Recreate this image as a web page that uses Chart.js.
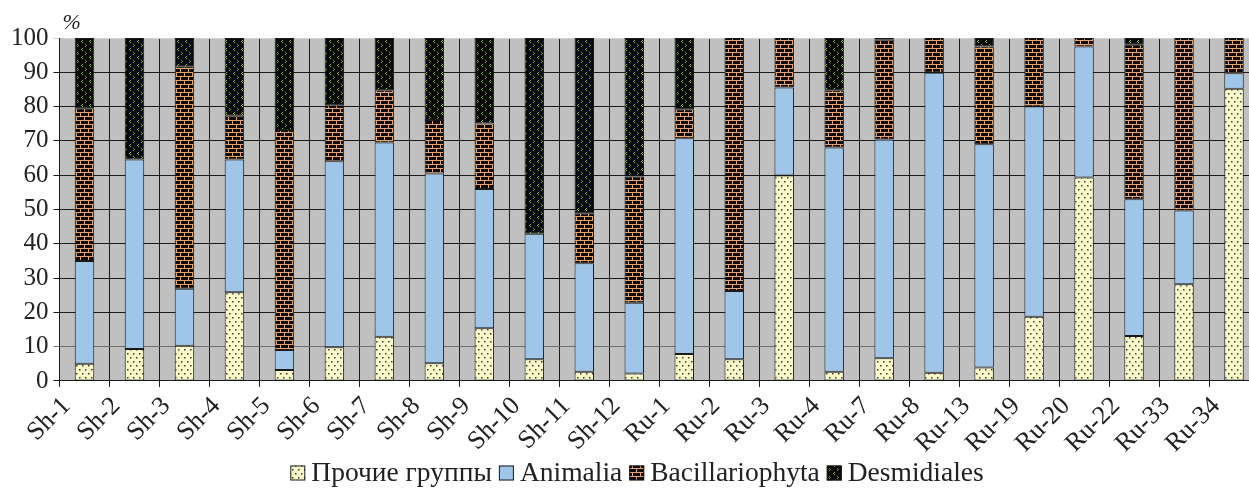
<!DOCTYPE html>
<html>
<head>
<meta charset="utf-8">
<script src="https://cdn.jsdelivr.net/npm/chart.js@4"></script>
<style>
  html, body { margin: 0; padding: 0; background: #fff; overflow: hidden; }
  #wrap { width: 1262px; height: 494px; }
</style>
</head>
<body>
<div id="wrap"><canvas id="barChart" width="1262" height="494"></canvas></div>
<script>
const sites = ["Sh-1", "Sh-2", "Sh-3", "Sh-4", "Sh-5", "Sh-6", "Sh-7", "Sh-8", "Sh-9", "Sh-10", "Sh-11", "Sh-12",
  "Ru-1", "Ru-2", "Ru-3", "Ru-4", "Ru-7", "Ru-8", "Ru-13", "Ru-19", "Ru-20", "Ru-22", "Ru-33", "Ru-34"];

const other = [5, 9.3, 10.3, 25.9, 3.2, 9.8, 12.9, 5.2, 15.4, 6.3, 2.7, 2.2,
  7.9, 6.3, 59.9, 2.7, 6.6, 2.4, 3.9, 18.7, 59.3, 13.1, 28.2, 85.2];
const animalia = [30, 55.3, 16.6, 38.7, 5.8, 54.3, 56.6, 55.3, 40.6, 36.6, 31.6, 20.6,
  62.9, 19.9, 25.7, 65.4, 63.8, 87.5, 65.1, 61.3, 38.2, 39.9, 21.5, 4.5];
const bacillario = [44.5, 0, 64.7, 12.7, 64.2, 16.3, 15.3, 15.6, 19.1, 0, 14.6, 36.8,
  8.4, 73.8, 14.4, 16.7, 29.1, 10.1, 28.5, 20, 2.5, 45, 50.3, 10.3];
const desmid = [20.5, 35.4, 8.4, 22.7, 26.8, 19.6, 15.2, 23.9, 24.9, 57.1, 51.1, 40.4,
  20.8, 0, 0, 15.2, 0.5, 0, 2.5, 0, 0, 2, 0, 0];

const yTicks = [0, 10, 20, 30, 40, 50, 60, 70, 80, 90, 100];

function tile(w, h, paint) {
  const c = document.createElement("canvas");
  c.width = w; c.height = h;
  const g = c.getContext("2d");
  paint(g);
  return document.createElement("canvas").getContext("2d").createPattern(c, "repeat");
}

// light yellow with small dark dots
const dots = tile(6, 8, g => {
  g.fillStyle = "#fbf8c9"; g.fillRect(0, 0, 6, 8);
  g.fillStyle = "#3a3a30";
  g.fillRect(1, 1, 1.5, 1.5);
  g.fillRect(4, 5, 1.5, 1.5);
});

// black bricks with orange mortar
const bricks = tile(8, 8, g => {
  g.fillStyle = "#0a0a0a"; g.fillRect(0, 0, 8, 8);
  g.fillStyle = "#e9a46c";
  g.fillRect(0, 0, 8, 1);
  g.fillRect(0, 4, 8, 1);
  g.fillRect(0, 0, 1, 4);
  g.fillRect(4, 4, 1, 4);
});

// black with little green chevrons
const greenMarks = tile(8, 8, g => {
  g.fillStyle = "#080808"; g.fillRect(0, 0, 8, 8);
  g.fillStyle = "#8cc63c";
  g.fillRect(2, 0, 1, 1); g.fillRect(1, 1, 1, 1); g.fillRect(2, 2, 1, 1);
  g.fillStyle = "#6aa224";
  g.fillRect(5, 4, 1, 1); g.fillRect(6, 5, 1, 1); g.fillRect(5, 6, 1, 1);
});

const edge = "#1a1a1a";
const serif = "'Liberation Serif', 'DejaVu Serif', serif";

// legend drawn by hand so box/text spacing matches the original
const legendItems = [
  { text: "Прочие группы", fill: dots },
  { text: "Animalia", fill: "#9fc6e9" },
  { text: "Bacillariophyta", fill: bricks },
  { text: "Desmidiales", fill: greenMarks }
];

const extras = {
  id: "extras",
  beforeDraw(chart) {
    const { ctx, chartArea: a } = chart;
    ctx.save();
    ctx.fillStyle = "#c0c0c0";
    ctx.fillRect(a.left, a.top, a.right - a.left, a.bottom - a.top);
    ctx.restore();
  },
  afterDraw(chart) {
    const { ctx, chartArea: a } = chart;
    ctx.save();
    ctx.font = "italic 22px " + serif;
    ctx.fillStyle = "#222";
    ctx.textBaseline = "alphabetic";
    ctx.fillText("%", a.left + 3, a.top - 9);

    ctx.font = "27.5px " + serif;
    const box = 15, gapText = 6, gapItem = 7;
    const widths = legendItems.map(it => box + gapText + ctx.measureText(it.text).width);
    const total = widths.reduce((s, w) => s + w, 0) + gapItem * (legendItems.length - 1);
    let x = 637 - total / 2;
    const cy = 473;
    legendItems.forEach((it, i) => {
      ctx.fillStyle = it.fill;
      ctx.fillRect(x, cy - box / 2, box, box);
      ctx.strokeStyle = edge; ctx.lineWidth = 1;
      ctx.strokeRect(x + 0.5, cy - box / 2 + 0.5, box - 1, box - 1);
      ctx.fillStyle = "#222";
      ctx.textBaseline = "middle";
      ctx.fillText(it.text, x + box + gapText, cy + 1);
      x += widths[i] + gapItem;
    });
    ctx.restore();
  }
};

new Chart(document.getElementById("barChart").getContext("2d"), {
  type: "bar",
  data: {
    labels: sites,
    datasets: [
      { label: legendItems[0].text, data: other, backgroundColor: dots },
      { label: legendItems[1].text, data: animalia, backgroundColor: "#9fc6e9" },
      { label: legendItems[2].text, data: bacillario, backgroundColor: bricks },
      { label: legendItems[3].text, data: desmid, backgroundColor: greenMarks }
    ].map(d => Object.assign(d, {
      borderColor: edge, borderWidth: 1, borderSkipped: false,
      categoryPercentage: 1, barPercentage: 0.39
    }))
  },
  options: {
    responsive: false,
    animation: false,
    layout: { padding: { top: 38, left: 6, right: 3, bottom: 31 } },
    scales: {
      x: {
        stacked: true,
        grid: { color: edge, lineWidth: 1, tickLength: 6 },
        border: { color: edge },
        ticks: {
          color: "#222", font: { family: serif, size: 26 },
          autoSkip: false, minRotation: 45, maxRotation: 45, padding: 4, labelOffset: -18
        }
      },
      y: {
        stacked: true, min: 0, max: 100,
        afterBuildTicks(scale) { scale.ticks = yTicks.map(v => ({ value: v })); },
        grid: {
          color: ctx => {
            const v = ctx.tick && ctx.tick.value;
            if (v === 100) return "#cfcfcf";
            if (v === 10) return "#6e6e6e";
            return edge;
          },
          lineWidth: 1, tickLength: 6
        },
        border: { color: edge },
        ticks: { color: "#222", font: { family: serif, size: 25 }, padding: 5 }
      }
    },
    plugins: {
      legend: { display: false },
      title: { display: false },
      tooltip: { enabled: false }
    }
  },
  plugins: [extras]
});
</script>
</body>
</html>
